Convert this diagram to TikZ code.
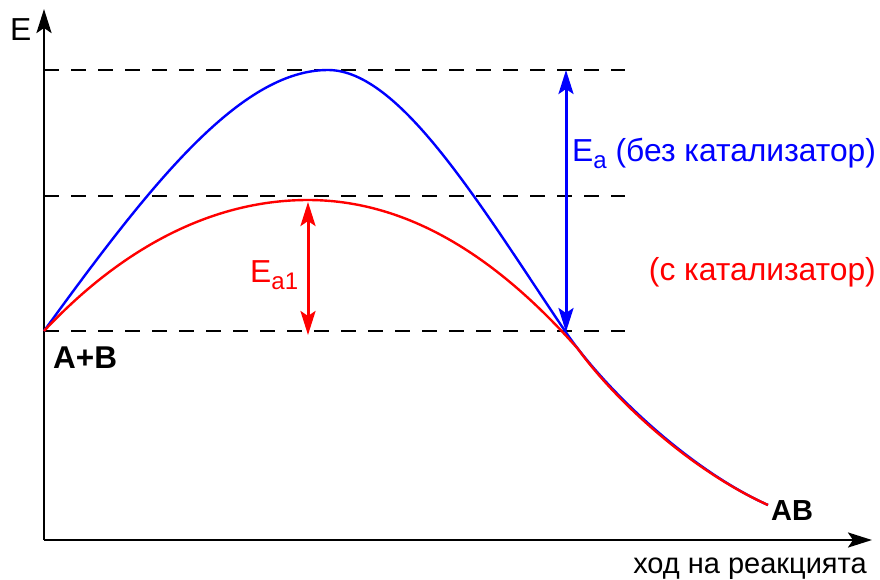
\documentclass[tikz,border=0pt]{standalone}
\usepackage{fontspec}
\setmainfont{Liberation Sans}
\usetikzlibrary{arrows.meta}
\newcommand{\subtxt}[1]{{\fontsize{24}{24}\selectfont\raisebox{-7pt}{#1}}}
\begin{document}
\begin{tikzpicture}[x=1pt,y=-1pt,
  axis/.style={line width=2.6pt,-{Stealth[length=24pt,width=15pt,inset=5pt]}},
  level/.style={line width=2pt,dash pattern=on 15pt off 12pt},
  curve/.style={line width=2.4pt},
  gap/.style={line width=3pt,{Stealth[length=24pt,width=15pt,inset=5pt]}-{Stealth[length=24pt,width=15pt,inset=5pt]}},
  lbl/.style={font=\fontsize{31.8}{34}\selectfont,inner sep=0pt,anchor=base west},
  bl/.style={lbl,font=\fontsize{31.5}{34}\selectfont\bfseries}
]
\useasboundingbox (0,0) rectangle (880,579);
% coordinates
\coordinate (O) at (44,540);
\coordinate (ytop) at (44,9);
\coordinate (xend) at (872,540);
\coordinate (start) at (44,331);
\coordinate (bpeak) at (328,70);
\coordinate (rpeak) at (308,200);
\coordinate (bcross) at (565,331);
\coordinate (rjoin) at (578,349);
\coordinate (finish) at (768,505);
\coordinate (l1a) at (44,70);  \coordinate (l1b) at (625,70);
\coordinate (l2a) at (44,196); \coordinate (l2b) at (625,196);
\coordinate (l3a) at (44,331); \coordinate (l3b) at (625,331);
\coordinate (ba) at (566,70);  \coordinate (bb) at (566,332);
\coordinate (ra) at (308,202); \coordinate (rb) at (308,335);
% dashed levels
\draw[level] (l1a) -- (l1b);
\draw[level] (l2a) -- (l2b);
\draw[level] (l3a) -- (l3b);
% axes
\draw[axis] (O) -- (ytop);
\draw[axis] (O) -- (xend);
% curves
\draw[curve,blue] (start) .. controls (150,185) and (240,70) .. (bpeak)
  .. controls (400,70) and (480,205) .. (bcross)
  .. controls (605,390) and (690,470) .. (finish);
\draw[curve,red] (start) .. controls (120,250) and (210,200) .. (rpeak)
  .. controls (420,200) and (510,272) .. (rjoin)
  .. controls (615,400) and (690,470) .. (finish);
% gap arrows
\draw[gap,blue] (ba) -- (bb);
\draw[gap,red] (ra) -- (rb);
% labels
\node[lbl] (E) at (10,40) {E};
\node[lbl,blue] (Ea) at (572,161) {E\subtxt{a} (без катализатор)};
\node[lbl,red,anchor=base east] (cat) at (876,280) {(с катализатор)};
\node[lbl,red] (Ea1) at (250,282) {E\subtxt{a1}};
\node[bl] (AB0) at (53,368) {A+B};
\node[bl,font=\fontsize{29}{32}\selectfont\bfseries] (AB) at (771,520) {AB};
\node[lbl,font=\fontsize{29}{32}\selectfont,anchor=base east] (xl) at (867,573) {ход на реакцията};
\end{tikzpicture}
\end{document}
